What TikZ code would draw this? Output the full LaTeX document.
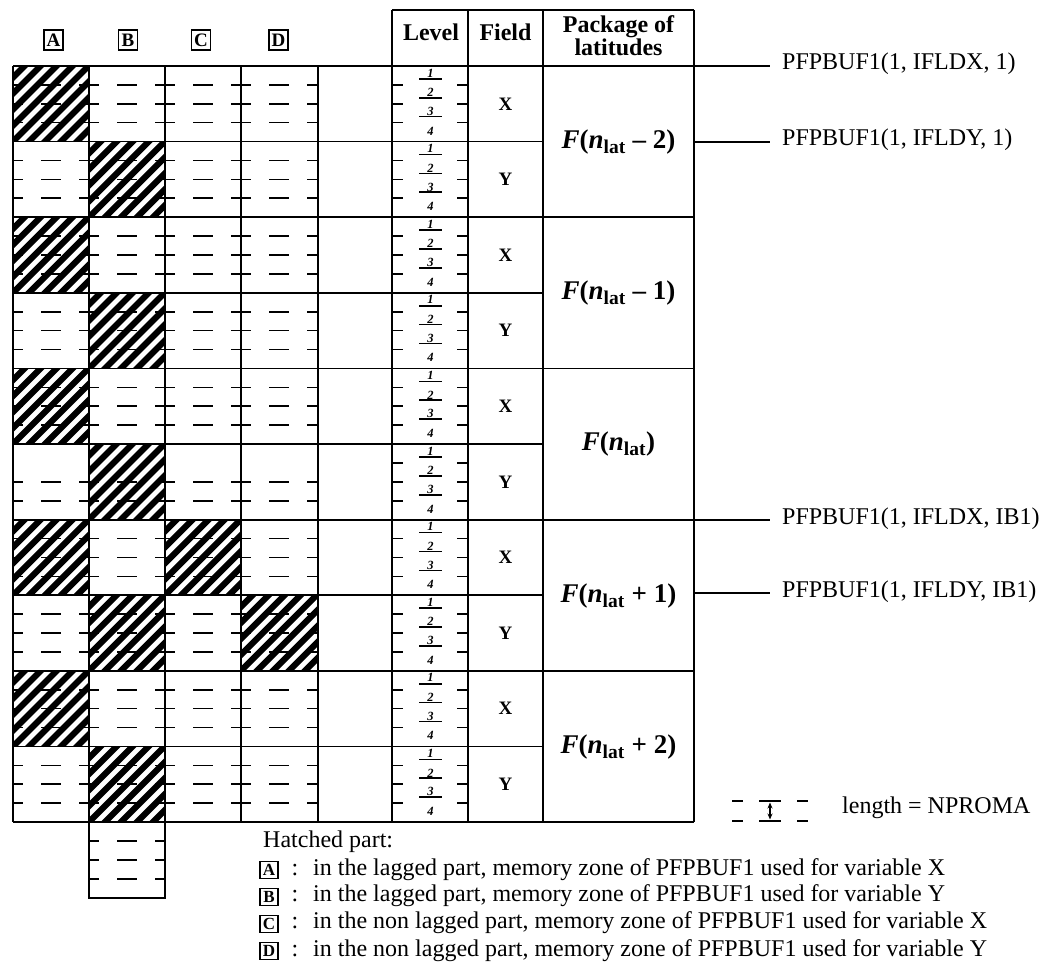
\documentclass[tikz,border=0pt]{standalone}
\usepackage{fontspec}
\setmainfont{Liberation Serif}
\usetikzlibrary{arrows.meta}
\newcommand\rowy[1]{66+75.6*#1}
\newcommand\hatchcell[3]{%
  \pgfmathsetmacro\hya{66+75.6*#3}%
  \pgfmathsetmacro\hyb{\hya+75.6}%
  \begin{scope}
    \clip (#1,\hya) rectangle (#2,\hyb);
    \foreach \k in {0,...,10}{\draw[hatchline] ({#1-82+\k*16},\hyb+2) -- ++(84,-84);}
  \end{scope}}
\begin{document}
\begin{tikzpicture}[x=1pt,y=-1pt,
  grid/.style={line width=1.8pt},
  thin/.style={line width=1.5pt},
  hatchline/.style={line width=6.2pt},
  dsh/.style={line width=1.6pt, dash pattern=on 20pt off 18pt, dash phase=10pt},
  stub/.style={line width=1.6pt},
  hdr/.style={font=\fontsize{24}{15}\selectfont\bfseries, align=center, inner sep=0pt},
  hbox/.style={draw, line width=1.3pt, inner sep=0pt, minimum width=19pt, minimum height=20pt, font=\fontsize{19}{19}\selectfont\bfseries},
  lbox/.style={draw, line width=1.3pt, inner sep=0pt, minimum width=18pt, minimum height=17pt, font=\fontsize{17}{17}\selectfont\bfseries},
  lvl/.style={font=\fontsize{12.5}{12.5}\selectfont\bfseries\itshape, inner sep=0pt},
  fld/.style={font=\fontsize{19}{19}\selectfont\bfseries, inner sep=0pt},
  pkg/.style={font=\fontsize{27}{27}\selectfont\bfseries, inner sep=0pt},
  lbl/.style={font=\fontsize{24}{24}\selectfont, inner sep=0pt},
  txt/.style={font=\fontsize{24}{24}\selectfont, inner sep=0pt}]
\useasboundingbox (0,0) rectangle (1053,963);
% hatched cells
\foreach \r in {0,2,4,6,8}{\hatchcell{13}{89}{\r}}
\foreach \r in {1,3,5,7,9}{\hatchcell{89}{165}{\r}}
\hatchcell{165}{241}{6}
\hatchcell{241}{318}{7}
% dashes in the columns A-D
\foreach \r in {0,...,9}{
  \foreach \k in {1,2,3}{
    \pgfmathsetmacro\yy{66+75.6*\r+18.9*\k}
    \ifnum\r=5 \ifnum\k=1 \else \draw[dsh] (13,\yy) -- (318,\yy);\fi
    \else \draw[dsh] (13,\yy) -- (318,\yy);\fi
  }}
\foreach \k in {1,2,3}{
  \pgfmathsetmacro\yy{66+75.6*10+18.9*\k}
  \draw[dsh] (89,\yy) -- (165,\yy);}
% grid
\foreach \r in {0,...,10}{\draw[grid] (13,{\rowy{\r}}) -- (543,{\rowy{\r}});}
\foreach \r in {0,2,...,10}{\draw[grid] (543,{\rowy{\r}}) -- (694,{\rowy{\r}});}
\foreach \x in {13,89,165,241,318}{\draw[grid] (\x,66) -- (\x,822);}
\foreach \x in {392,468,543,694}{\draw[grid] (\x,10) -- (\x,822);}
\draw[grid] (392,10) -- (694,10);
\draw[grid] (89,822) rectangle (165,897.6);
% level column
\foreach \r in {0,...,9}{
  \pgfmathsetmacro\yo{66+75.6*\r}
  \foreach \k in {1,2,3}{
    \draw[stub] (392,\yo+18.9*\k) -- (403,\yo+18.9*\k);
    \draw[stub] (457,\yo+18.9*\k) -- (468,\yo+18.9*\k);
    \draw[stub] (419,\yo+18.9*\k-6) -- (442,\yo+18.9*\k-6);
  }
  \node[lvl] (lv\r a) at (430.5,\yo+7) {1};
  \node[lvl] (lv\r b) at (430.5,\yo+26.5) {2};
  \node[lvl] (lv\r c) at (430.5,\yo+45.5) {3};
  \node[lvl] (lv\r d) at (430.5,\yo+65) {4};
}
% field column
\foreach \r in {0,2,...,8}{\node[fld] (fx\r) at (505.5,{\rowy{\r}+37.8}) {X};}
\foreach \r in {1,3,...,9}{\node[fld] (fy\r) at (505.5,{\rowy{\r}+37.8}) {Y};}
% package column
\node[pkg] (p0) at (618.5,142) {\itshape F\upshape(\itshape n\upshape\textsubscript{\fontsize{19.5}{19.5}\selectfont lat} -- 2)};
\node[pkg] (p1) at (618.5,293.2) {\itshape F\upshape(\itshape n\upshape\textsubscript{\fontsize{19.5}{19.5}\selectfont lat} -- 1)};
\node[pkg] (p2) at (618.5,444.4) {\itshape F\upshape(\itshape n\upshape\textsubscript{\fontsize{19.5}{19.5}\selectfont lat})};
\node[pkg] (p3) at (618.5,595.6) {\itshape F\upshape(\itshape n\upshape\textsubscript{\fontsize{19.5}{19.5}\selectfont lat} + 1)};
\node[pkg] (p4) at (618.5,746.8) {\itshape F\upshape(\itshape n\upshape\textsubscript{\fontsize{19.5}{19.5}\selectfont lat} + 2)};
% headers
\node[hbox] (ha) at (53.5,40) {A};
\node[hbox] (hb) at (128,40) {B};
\node[hbox] (hc) at (201,40) {C};
\node[hbox] (hd) at (278.5,40) {D};
\node[hdr, anchor=base] (hl) at (431,41) {Level};
\node[hdr, anchor=base] (hf) at (505.5,41) {Field};
\node[hdr] (hp) at (618.5,36) {Package of\\latitudes};
% right labels
\coordinate (s0) at (694,66);
\coordinate (s1) at (694,142);
\coordinate (s2) at (694,520);
\coordinate (s3) at (694,593);
\node[lbl, anchor=base west] (r0) at (782,70) {PFPBUF1(1, IFLDX, 1)};
\node[lbl, anchor=base west] (r1) at (782,146) {PFPBUF1(1, IFLDY, 1)};
\node[lbl, anchor=base west] (r2) at (782,524) {PFPBUF1(1, IFLDX, IB1)};
\node[lbl, anchor=base west] (r3) at (782,597) {PFPBUF1(1, IFLDY, IB1)};
\foreach \i in {0,1,2,3}{\draw[grid] (s\i) -- ([xshift=-12pt]s\i -| r\i.west);}
% NPROMA legend
\coordinate (na) at (732,801); \coordinate (nb) at (732,821);
\draw[thin] (na) -- ++(11,0); \draw[thin] (nb) -- ++(11,0);
\coordinate (nc) at (759,801); \coordinate (nd) at (759,821);
\draw[thin] (nc) -- ++(22,0); \draw[thin] (nd) -- ++(22,0);
\coordinate (ne) at (797,801); \coordinate (nf) at (797,821);
\draw[thin] (ne) -- ++(11,0); \draw[thin] (nf) -- ++(11,0);
\coordinate (ar1) at (770,802.5); \coordinate (ar2) at (770,819.5);
\draw[line width=1.2pt, {Stealth[length=6pt,width=5pt]}-{Stealth[length=6pt,width=5pt]}] (ar1) -- (ar2);
\node[txt, anchor=base west] (nt) at (842,813) {length = NPROMA};
% bottom legend
\node[txt, anchor=base west] (hp0) at (263,847) {Hatched part:};
\node[lbox] (ka) at (269,870) {A};
\node[txt, anchor=base] (ca) at (295,875) {:};
\node[txt, anchor=base west] (ta) at (313,875) {in the lagged part, memory zone of PFPBUF1 used for variable X};
\node[lbox] (kb) at (269,897) {B};
\node[txt, anchor=base] (cb) at (295,901) {:};
\node[txt, anchor=base west] (tb) at (313,901) {in the lagged part, memory zone of PFPBUF1 used for variable Y};
\node[lbox] (kc) at (269,924) {C};
\node[txt, anchor=base] (cc) at (295,928) {:};
\node[txt, anchor=base west] (tc) at (313,928) {in the non lagged part, memory zone of PFPBUF1 used for variable X};
\node[lbox] (kd) at (269,951) {D};
\node[txt, anchor=base] (cd) at (295,956) {:};
\node[txt, anchor=base west] (td) at (313,956) {in the non lagged part, memory zone of PFPBUF1 used for variable Y};
\end{tikzpicture}
\end{document}
